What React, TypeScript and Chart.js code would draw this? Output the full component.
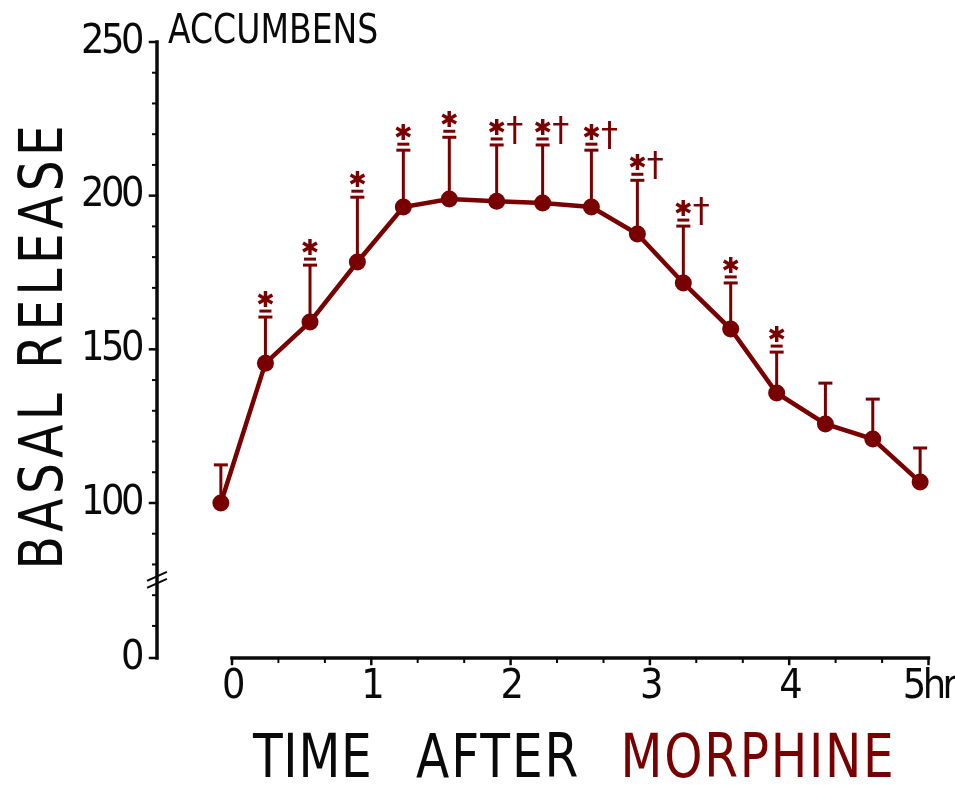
import React, { useEffect, useRef } from "react";
import { Chart, registerables } from "chart.js";

Chart.register(...registerables);

const RED = "#780000";
const INK = "#0a0a0a";
const NARROW = '"DejaVu Sans Condensed", "Liberation Sans Narrow", "Liberation Sans", sans-serif';

// Data (time after morphine in hours, basal release in %)
const times = [-0.08, 0.24, 0.56, 0.9, 1.23, 1.56, 1.9, 2.23, 2.58, 2.91, 3.24, 3.58, 3.91, 4.26, 4.6, 4.94];
const release = [100, 145.5, 158.9, 178.4, 196.3, 198.9, 198.2, 197.6, 196.3, 187.5, 171.6, 156.6, 135.8, 125.7, 120.8, 106.8];
const upperSEM = [112.4, 160.5, 177.4, 199.5, 214.8, 219, 216.5, 216.5, 214.8, 205, 190.1, 171.6, 149.1, 139, 133.8, 117.9];
const starFlags = [0, 1, 1, 1, 1, 1, 1, 1, 1, 1, 1, 1, 1, 0, 0, 0];
const daggerFlags = [0, 0, 0, 0, 0, 0, 1, 1, 1, 1, 1, 0, 0, 0, 0, 0];

// Axis definitions
const xTickValues = [0, 1, 2, 3, 4, 5];
const xTickLabels = ["0", "1", "2", "3", "4", "5hr"];
const xMinorValues = [0.333, 0.667, 1.333, 1.667, 2.333, 2.667, 3.333, 3.667, 4.333, 4.667];
const yBottomValue = 49.56; // broken axis: this position is labelled 0
const yTickValues = [yBottomValue, 100, 150, 200, 250];
const yTickLabels = ["0", "100", "150", "200", "250"];
const yMinorValues = [60, 70, 80, 90, 110, 120, 130, 140, 160, 170, 180, 190, 210, 220, 230, 240];
const yBreakValue = 75;
const X_MIN = -0.5384;
const X_MAX = 5.0467;

const yTitle = "BASAL RELEASE";
const xTitleWords = ["TIME", "AFTER", "MORPHINE"];
const panelTitle = "ACCUMBENS";

function drawFitted(
  ctx: CanvasRenderingContext2D,
  text: string,
  x: number,
  baseline: number,
  targetW: number,
  size: number,
  color: string,
  sx: number
) {
  ctx.save();
  ctx.font = `${size}px ${NARROW}`;
  ctx.fillStyle = color;
  ctx.textAlign = "left";
  ctx.textBaseline = "alphabetic";
  (ctx as any).letterSpacing = "0px";
  const m = ctx.measureText(text);
  const inkW = m.actualBoundingBoxRight + m.actualBoundingBoxLeft;
  const n = text.length;
  let s = sx;
  let sp = n > 1 ? (targetW - inkW * s) / (n - 1) : 0;
  if (sp < 0) {
    s = targetW / inkW;
    sp = 0;
  }
  ctx.translate(x, baseline);
  ctx.scale(s, 1);
  (ctx as any).letterSpacing = `${sp / s}px`;
  ctx.fillText(text, m.actualBoundingBoxLeft, 0);
  ctx.restore();
}

const spacingPlugin = {
  id: "spacingPlugin",
  beforeDraw(chart: any) {
    (chart.ctx as any).letterSpacing = "-3.5px";
  },
  beforeDatasetsDraw(chart: any) {
    (chart.ctx as any).letterSpacing = "0px";
  },
};

const axesPlugin = {
  id: "axesPlugin",
  beforeDatasetsDraw(chart: any) {
    const { ctx, chartArea } = chart;
    const xs = chart.scales.x;
    const ys = chart.scales.y;
    ctx.save();
    ctx.strokeStyle = INK;
    ctx.lineCap = "square";
    const x0 = chartArea.left;
    ctx.lineWidth = 3.5;
    ctx.beginPath();
    ctx.moveTo(x0, ys.getPixelForValue(250));
    ctx.lineTo(x0, ys.getPixelForValue(yBottomValue));
    ctx.stroke();
    ctx.lineWidth = 2.5;
    yTickValues.forEach((v) => {
      const py = ys.getPixelForValue(v);
      ctx.beginPath();
      ctx.moveTo(x0 - 7, py);
      ctx.lineTo(x0, py);
      ctx.stroke();
    });
    ctx.lineWidth = 2;
    yMinorValues.forEach((v) => {
      const py = ys.getPixelForValue(v);
      ctx.beginPath();
      ctx.moveTo(x0 - 4, py);
      ctx.lineTo(x0, py);
      ctx.stroke();
    });
    const yb = ys.getPixelForValue(yBreakValue);
    ctx.lineWidth = 2;
    [-3.5, 3.5].forEach((d) => {
      ctx.beginPath();
      ctx.moveTo(x0 - 9, yb + d + 4);
      ctx.lineTo(x0 + 9, yb + d - 4);
      ctx.stroke();
    });
    const yx = chartArea.bottom;
    const xa = xs.getPixelForValue(0);
    const xb = xs.getPixelForValue(5);
    ctx.lineWidth = 3.5;
    ctx.beginPath();
    ctx.moveTo(xa, yx);
    ctx.lineTo(xb, yx);
    ctx.stroke();
    ctx.lineWidth = 2.5;
    xTickValues.forEach((v) => {
      const px = xs.getPixelForValue(v);
      ctx.beginPath();
      ctx.moveTo(px, yx);
      ctx.lineTo(px, yx + 6);
      ctx.stroke();
    });
    ctx.lineWidth = 2;
    xMinorValues.forEach((v) => {
      const px = xs.getPixelForValue(v);
      ctx.beginPath();
      ctx.moveTo(px, yx);
      ctx.lineTo(px, yx + 4);
      ctx.stroke();
    });
    ctx.restore();
  },
};

const errorPlugin = {
  id: "errorPlugin",
  beforeDatasetsDraw(chart: any) {
    const { ctx } = chart;
    const xs = chart.scales.x;
    const ys = chart.scales.y;
    ctx.save();
    ctx.strokeStyle = RED;
    ctx.fillStyle = RED;
    times.forEach((t, i) => {
      const px = xs.getPixelForValue(t);
      const py = ys.getPixelForValue(release[i]);
      const pu = ys.getPixelForValue(upperSEM[i]);
      ctx.lineWidth = 3;
      ctx.beginPath();
      ctx.moveTo(px, py);
      ctx.lineTo(px, pu);
      ctx.stroke();
      ctx.beginPath();
      ctx.moveTo(px - 7, pu);
      ctx.lineTo(px + 7, pu);
      ctx.stroke();
    });
    ctx.restore();
  },
  afterDatasetsDraw(chart: any) {
    const { ctx } = chart;
    const xs = chart.scales.x;
    const ys = chart.scales.y;
    ctx.save();
    (ctx as any).letterSpacing = "0px";
    ctx.strokeStyle = RED;
    ctx.fillStyle = RED;
    times.forEach((t, i) => {
      const px = xs.getPixelForValue(t);
      const pu = ys.getPixelForValue(upperSEM[i]);
      if (starFlags[i]) {
        ctx.lineWidth = 3;
        ctx.beginPath();
        ctx.moveTo(px - 6, pu - 6);
        ctx.lineTo(px + 6, pu - 6);
        ctx.stroke();
        ctx.font = 'bold 22px "DejaVu Sans", sans-serif';
        ctx.textAlign = "center";
        ctx.textBaseline = "middle";
        ctx.fillText("\u2731", px, pu - 16);
      }
      if (daggerFlags[i]) {
        ctx.font = '34px "DejaVu Sans", sans-serif';
        ctx.textAlign = "center";
        ctx.textBaseline = "alphabetic";
        ctx.fillText("\u2020", px + 18, pu - 4);
      }
    });
    ctx.restore();
  },
};

const textPlugin = {
  id: "textPlugin",
  afterDraw(chart: any) {
    const { ctx } = chart;
    drawFitted(ctx, panelTitle, 168, 43, 209, 41, INK, 0.95);
    ctx.save();
    ctx.translate(62, 565);
    ctx.rotate(-Math.PI / 2);
    drawFitted(ctx, yTitle, 0, 0, 437, 60, INK, 0.9);
    ctx.restore();
    drawFitted(ctx, xTitleWords[0], 252, 777, 117, 60, INK, 0.9);
    drawFitted(ctx, xTitleWords[1], 416, 777, 161, 60, INK, 0.9);
    drawFitted(ctx, xTitleWords[2], 625, 777, 266, 60, RED, 0.9);
  },
};

export default function App() {
  const ref = useRef<HTMLCanvasElement | null>(null);
  useEffect(() => {
    if (!ref.current) return;
    const chart = new Chart(ref.current, {
      type: "line",
      data: {
        datasets: [
          {
            data: times.map((t, i) => ({ x: t, y: release[i] })),
            borderColor: RED,
            backgroundColor: RED,
            borderWidth: 4.5,
            pointRadius: 8.5,
            pointBorderWidth: 0,
            pointBackgroundColor: RED,
            tension: 0,
            clip: false as any,
          },
        ],
      },
      options: {
        responsive: false,
        animation: false,
        devicePixelRatio: 1,
        layout: { padding: { top: 42, right: 20, left: 0, bottom: 0 } },
        plugins: {
          legend: { display: false },
          tooltip: { enabled: false },
          title: { display: false },
        },
        scales: {
          x: {
            type: "linear",
            min: X_MIN,
            max: X_MAX,
            grid: { display: false, drawTicks: false, tickLength: 0 },
            border: { display: false },
            afterBuildTicks: (s: any) => {
              s.ticks = xTickValues.map((v) => ({ value: v }));
            },
            afterFit: (s: any) => {
              s.height = 127;
              s.paddingLeft = 0;
              s.paddingRight = 0;
            },
            ticks: {
              autoSkip: false,
              maxRotation: 0,
              minRotation: 0,
              padding: 5,
              color: INK,
              font: { family: NARROW, size: 41 },
              callback: (_v: any, i: number) => xTickLabels[i],
            },
          },
          y: {
            type: "linear",
            min: yBottomValue,
            max: 250,
            grid: { display: false, drawTicks: false, tickLength: 0 },
            border: { display: false },
            afterBuildTicks: (s: any) => {
              s.ticks = yTickValues.map((v) => ({ value: v }));
            },
            afterFit: (s: any) => {
              s.width = 157;
              s.paddingTop = 0;
              s.paddingBottom = 0;
            },
            ticks: {
              autoSkip: false,
              padding: 16,
              color: INK,
              font: { family: NARROW, size: 41 },
              callback: (_v: any, i: number) => yTickLabels[i],
            },
          },
        },
      },
      plugins: [spacingPlugin, axesPlugin, errorPlugin, textPlugin],
    });
    return () => chart.destroy();
  }, []);
  return (
    <div style={{ position: "fixed", left: 0, top: 0, width: 955, height: 785, background: "#fff" }}>
      <canvas ref={ref} width={955} height={785} style={{ display: "block", width: 955, height: 785 }} />
    </div>
  );
}
